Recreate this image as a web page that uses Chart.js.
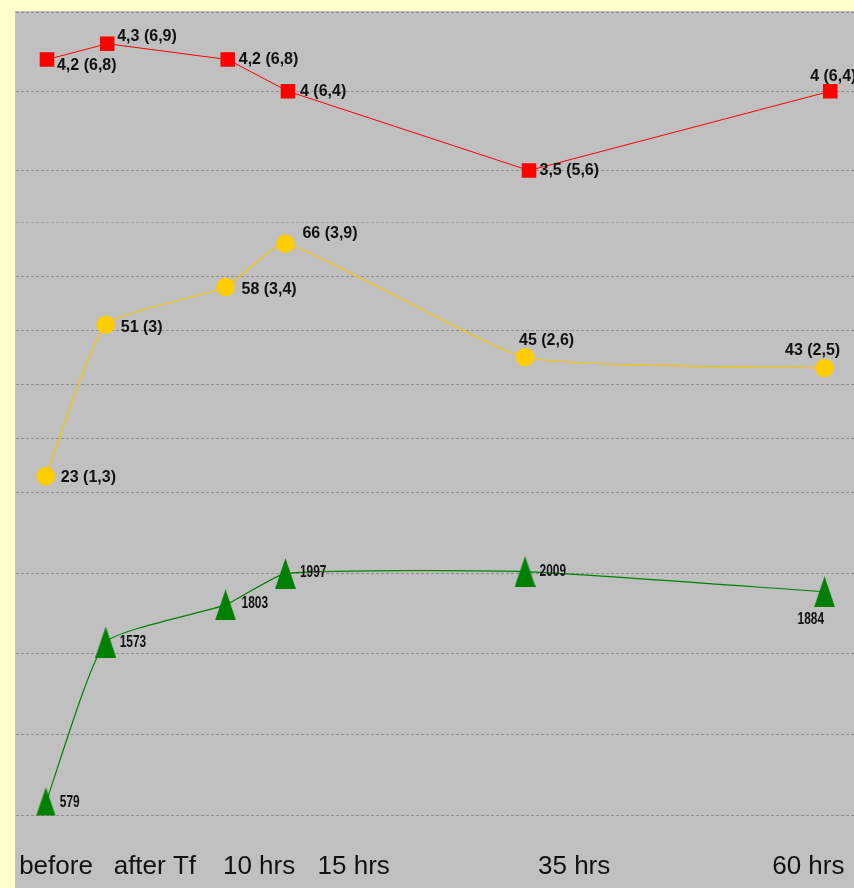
<!DOCTYPE html>
<html>
<head>
<meta charset="utf-8">
<script src="https://cdn.jsdelivr.net/npm/chart.js@4.4.1/dist/chart.umd.min.js"></script>
<style>
  html, body { margin: 0; padding: 0; background: #ffffcc; overflow: hidden; }
  canvas { display: block; }
</style>
</head>
<body>
<canvas id="chart" width="854" height="888"></canvas>
<script>
// --- Data ---

const hours = [-5, 0, 10, 15, 35, 60];
const xLabels = ['before', 'after Tf', '10 hrs', '15 hrs', '35 hrs', '60 hrs'];

const redMean = [4.2, 4.3, 4.2, 4.0, 3.5, 4.0];
const redSd = [6.8, 6.9, 6.8, 6.4, 5.6, 6.4];

const yellowMean = [23, 51, 58, 66, 45, 43];
const yellowSd = [1.3, 3, 3.4, 3.9, 2.6, 2.5];

const greenVals = [579, 1573, 1803, 1997, 2009, 1884];

// --- Layout bits ---

// where the time captions sit along the hour axis
const labelAt = [-4.15, 4.1, 12.8, 20.7, 39.1, 58.65];

// label offsets from each marker: [dx, dy, align]
const redOffsets = [[10, 6, 'left'], [10, -7, 'left'], [11, 0, 'left'], [12, 0, 'left'], [10.5, 0.5, 'left'], [3, -15, 'center']];
const yellowOffsets = [[15, 2, 'left'], [15, 3, 'left'], [16, 3, 'left'], [17, -10, 'left'], [-6, -17, 'left'], [-39.5, -17.5, 'left']];
const greenOffsets = [[14, 0, 'left'], [14, 0, 'left'], [16, -1.5, 'left'], [14.5, -1, 'left'], [14.5, 0, 'left'], [-27, 27, 'left']];

const FONT = "'Liberation Sans', Arial, sans-serif";
const GRID = '#8e8e8e';

const fmtNum = (n) => String(n).replace('.', ',');
const withSd = (m, s) => m.map((v, i) => `${fmtNum(v)} (${fmtNum(s[i])})`);
const toPoints = (vals) => vals.map((v, i) => ({ x: hours[i], y: v }));

function triangleMarker(w, h, color) {
  const c = document.createElement('canvas');
  c.width = w;
  c.height = h;
  const g = c.getContext('2d');
  g.fillStyle = color;
  g.beginPath();
  g.moveTo(w / 2, 0);
  g.lineTo(w, h);
  g.lineTo(0, h);
  g.closePath();
  g.fill();
  return c;
}

// --- Plugins ---

const plotBackdrop = {
  id: 'plotBackdrop',
  beforeDraw(chart) {
    const { ctx, width, height, chartArea } = chart;
    ctx.save();
    ctx.fillStyle = '#ffffcc';
    ctx.fillRect(0, 0, width, height);
    ctx.fillStyle = '#c0c0c0';
    ctx.fillRect(chartArea.left, chartArea.top - 1, width - chartArea.left, height - chartArea.top + 1);
    ctx.fillStyle = '#c6c6a8';
    ctx.fillRect(chartArea.left - 1, chartArea.top - 1, 1, height);
    ctx.restore();
  }
};

const pointLabels = {
  id: 'pointLabels',
  afterDatasetsDraw(chart) {
    const ctx = chart.ctx;
    chart.data.datasets.forEach((ds, i) => {
      const lab = ds.pointText;
      if (!lab) return;
      chart.getDatasetMeta(i).data.forEach((pt, j) => {
        const [dx, dy, align] = lab.offsets[j];
        ctx.save();
        ctx.font = lab.font;
        ctx.fillStyle = '#111';
        ctx.textBaseline = 'middle';
        ctx.textAlign = align;
        ctx.translate(pt.x + dx, pt.y + dy);
        ctx.scale(lab.squeeze, 1);
        ctx.fillText(lab.text[j], 0, 0);
        ctx.restore();
      });
    });
  }
};

// --- Chart ---

// three value bands stacked on the left, no visible ticks
const bandAxis = (min, max, step, weight, extra = {}) => Object.assign({
  type: 'linear',
  position: 'left',
  stack: 'bands',
  stackWeight: weight,
  min: min,
  max: max,
  ticks: { display: false, stepSize: step },
  grid: { color: GRID, drawTicks: false, lineWidth: 1 },
  border: { display: false, dash: [3, 2] },
  afterFit: (axis) => { axis.width = 0; }
}, extra);

Chart.defaults.font.family = FONT;

new Chart(document.getElementById('chart'), {
  type: 'line',
  data: {
    datasets: [
      {
        data: toPoints(greenVals),
        xAxisID: 'x',
        yAxisID: 'yGreen',
        borderColor: '#008000',
        borderWidth: 1.2,
        tension: 0.15,
        pointStyle: triangleMarker(21, 31, '#008000'),
        pointRadius: 10,
        pointBorderWidth: 0,
        pointText: { text: greenVals.map(String), offsets: greenOffsets, font: `bold 17px ${FONT}`, squeeze: 0.7 }
      },
      {
        data: toPoints(yellowMean),
        xAxisID: 'x',
        yAxisID: 'yYellow',
        borderColor: '#f5c400',
        borderWidth: 1.2,
        tension: 0.15,
        pointStyle: 'circle',
        pointRadius: 9.3,
        pointBackgroundColor: '#ffcc00',
        pointBorderWidth: 0,
        pointText: { text: withSd(yellowMean, yellowSd), offsets: yellowOffsets, font: `bold 16px ${FONT}`, squeeze: 1 }
      },
      {
        data: toPoints(redMean),
        xAxisID: 'xRed',
        yAxisID: 'yRed',
        borderColor: '#ff0000',
        borderWidth: 1,
        tension: 0,
        pointStyle: 'rect',
        pointRadius: 10.3,
        pointBackgroundColor: '#ff0000',
        pointBorderWidth: 0,
        pointText: { text: withSd(redMean, redSd), offsets: redOffsets, font: `bold 16px ${FONT}`, squeeze: 1 }
      }
    ]
  },
  options: {
    responsive: false,
    devicePixelRatio: 1,
    animation: false,
    events: [],
    layout: { autoPadding: false, padding: { left: 16, top: 12, right: 0, bottom: 5.5 } },
    plugins: { legend: { display: false }, tooltip: { enabled: false }, title: { display: false } },
    scales: {
      x: { type: 'linear', display: false, min: -7.49, max: 62.46 },
      xRed: { type: 'linear', display: false, min: -7.57, max: 61.97 },
      xl: {
        type: 'linear',
        position: 'bottom',
        min: -7.49,
        max: 62.46,
        grid: { display: false, drawTicks: false },
        border: { display: false },
        afterBuildTicks: (axis) => { axis.ticks = labelAt.map(v => ({ value: v })); },
        afterFit: (axis) => {
          axis.paddingLeft = 0;
          axis.paddingRight = 0;
          axis.height = 67;
        },
        ticks: {
          autoSkip: false,
          maxRotation: 0,
          padding: 36,
          color: '#111',
          font: { family: FONT, size: 26 },
          callback: (v, i) => xLabels[i]
        }
      },
      yGreen: bandAxis(500, 2500, 500, 323),
      yYellow: bandAxis(20, 70, 10, 270, {
        grid: { drawTicks: false, color: (c) => (c.tick && c.tick.value === 70 ? '#a6a6a6' : GRID) }
      }),
      yRed: bandAxis(3.174, 4.5, 0.5, 210, {
        afterBuildTicks: (axis) => { axis.ticks = axis.ticks.filter(t => Math.abs(t.value * 2 - Math.round(t.value * 2)) < 1e-6); }
      })
    }
  },
  plugins: [plotBackdrop, pointLabels]
});
</script>
</body>
</html>
